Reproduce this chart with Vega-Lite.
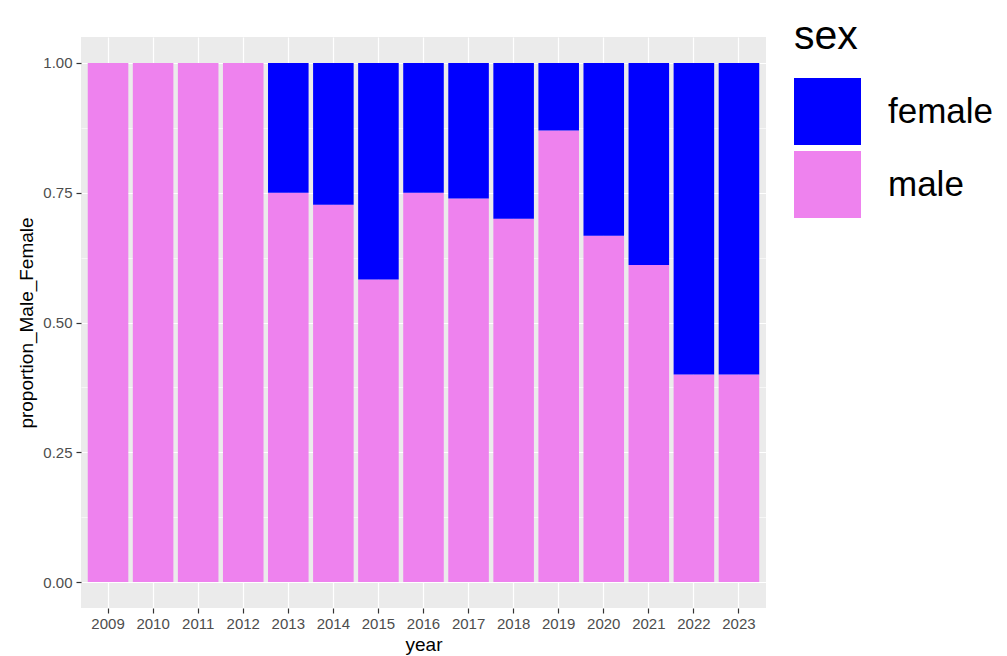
{
  "$schema": "https://vega.github.io/schema/vega-lite/v6.json",
  "width": 685,
  "height": 571,
  "autosize": "none",
  "padding": {"left": 81, "top": 37, "right": 241, "bottom": 48},
  "background": "white",
  "config": {
    "font": "Liberation Sans",
    "view": {"fill": "#EBEBEB", "stroke": null},
    "axis": {
      "domain": false,
      "gridColor": "white",
      "labelColor": "#4D4D4D",
      "labelFontSize": 15,
      "labelFont": "Liberation Sans",
      "tickColor": "#333333",
      "tickSize": 5,
      "tickWidth": 1.2,
      "titleFont": "Liberation Sans",
      "titleFontWeight": "normal",
      "titleFontSize": 19,
      "titleColor": "black"
    }
  },
  "data": {
    "values": [
      {"year": "2009", "sex": "male", "proportion": 1.0},
      {"year": "2009", "sex": "female", "proportion": 0.0},
      {"year": "2010", "sex": "male", "proportion": 1.0},
      {"year": "2010", "sex": "female", "proportion": 0.0},
      {"year": "2011", "sex": "male", "proportion": 1.0},
      {"year": "2011", "sex": "female", "proportion": 0.0},
      {"year": "2012", "sex": "male", "proportion": 1.0},
      {"year": "2012", "sex": "female", "proportion": 0.0},
      {"year": "2013", "sex": "male", "proportion": 0.75},
      {"year": "2013", "sex": "female", "proportion": 0.25},
      {"year": "2014", "sex": "male", "proportion": 0.727},
      {"year": "2014", "sex": "female", "proportion": 0.273},
      {"year": "2015", "sex": "male", "proportion": 0.583},
      {"year": "2015", "sex": "female", "proportion": 0.417},
      {"year": "2016", "sex": "male", "proportion": 0.75},
      {"year": "2016", "sex": "female", "proportion": 0.25},
      {"year": "2017", "sex": "male", "proportion": 0.739},
      {"year": "2017", "sex": "female", "proportion": 0.261},
      {"year": "2018", "sex": "male", "proportion": 0.7},
      {"year": "2018", "sex": "female", "proportion": 0.3},
      {"year": "2019", "sex": "male", "proportion": 0.87},
      {"year": "2019", "sex": "female", "proportion": 0.13},
      {"year": "2020", "sex": "male", "proportion": 0.667},
      {"year": "2020", "sex": "female", "proportion": 0.333},
      {"year": "2021", "sex": "male", "proportion": 0.611},
      {"year": "2021", "sex": "female", "proportion": 0.389},
      {"year": "2022", "sex": "male", "proportion": 0.4},
      {"year": "2022", "sex": "female", "proportion": 0.6},
      {"year": "2023", "sex": "male", "proportion": 0.4},
      {"year": "2023", "sex": "female", "proportion": 0.6}
    ]
  },
  "mark": {"type": "bar", "strokeWidth": 0},
  "encoding": {
    "x": {
      "field": "year",
      "type": "ordinal",
      "scale": {"paddingInner": 0.1, "paddingOuter": 0.15},
      "axis": {
        "title": "year",
        "labelAngle": 0,
        "grid": true,
        "gridWidth": 1.2,
        "bandPosition": 0.5,
        "labelPadding": 3,
        "titlePadding": 4
      }
    },
    "y": {
      "field": "proportion",
      "type": "quantitative",
      "stack": "zero",
      "scale": {"domain": [-0.05, 1.05], "nice": false, "zero": false},
      "axis": {
        "title": "proportion_Male_Female",
        "values": [0, 0.125, 0.25, 0.375, 0.5, 0.625, 0.75, 0.875, 1],
        "labelExpr": "(datum.value * 4) % 1 != 0 ? '' : format(datum.value, '.2f')",
        "gridWidth": {"condition": {"test": "(datum.value * 4) % 1 != 0", "value": 0.6}, "value": 1.2},
        "tickOpacity": {"condition": {"test": "(datum.value * 4) % 1 != 0", "value": 0}, "value": 1},
        "labelPadding": 4,
        "titlePadding": 6
      }
    },
    "order": {"field": "sex", "sort": "descending"},
    "color": {
      "field": "sex",
      "type": "nominal",
      "scale": {"domain": ["female", "male"], "range": ["#0000FF", "#EE82EE"]},
      "legend": {
        "orient": "none",
        "legendX": 713,
        "legendY": -20,
        "title": "sex",
        "titleFontSize": 41,
        "titleFont": "Liberation Sans",
        "titleFontWeight": "normal",
        "titleColor": "black",
        "titlePadding": 20,
        "labelFontSize": 35,
        "labelFont": "Liberation Sans",
        "labelColor": "black",
        "labelOffset": 27,
        "symbolType": "square",
        "symbolSize": 4489,
        "symbolStrokeWidth": 0,
        "symbolOpacity": 1,
        "rowPadding": 6,
        "padding": 0
      }
    }
  }
}
